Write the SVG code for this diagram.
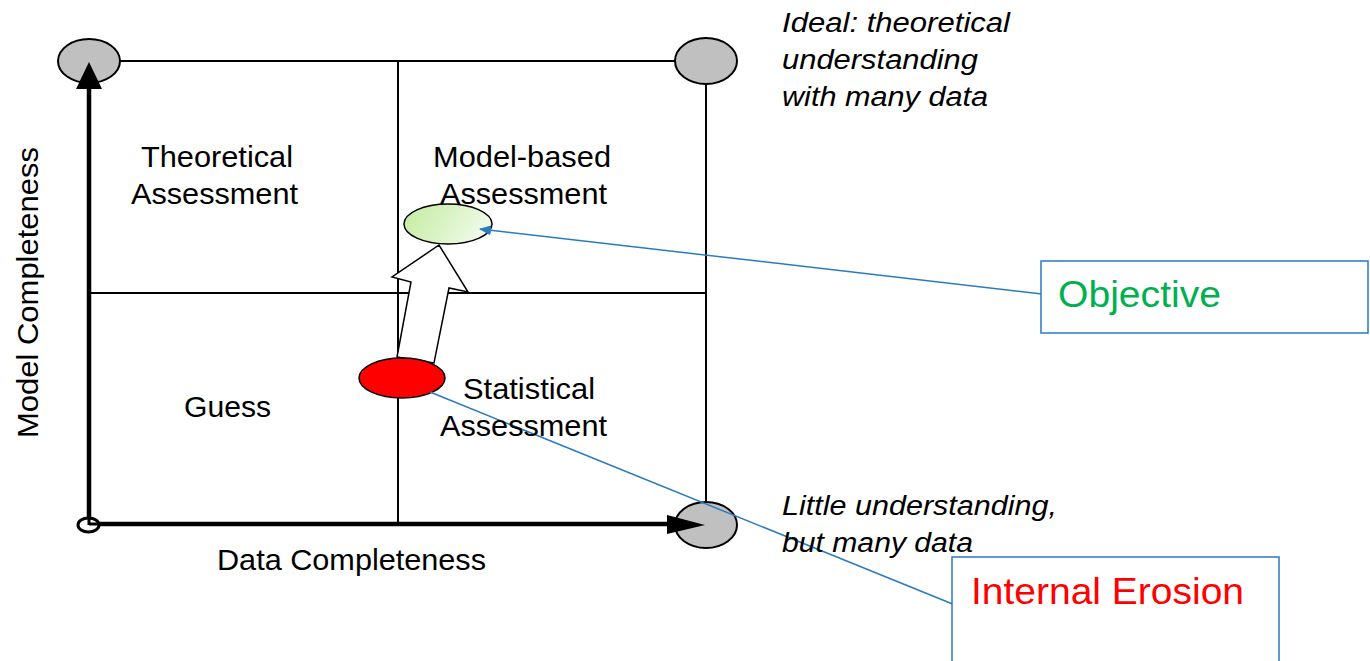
<svg xmlns="http://www.w3.org/2000/svg" width="1370" height="661" viewBox="0 0 1370 661">
<style>
.grid{stroke:#000;stroke-width:2;fill:none}
.axis{stroke:#000;stroke-width:4.5;fill:none}
.gray{fill:#c0c0c0;stroke:#000;stroke-width:2}
.lbl{font-family:"Liberation Sans",Arial,sans-serif;font-size:29px;fill:#000}
.ital{font-family:"Liberation Sans",Arial,sans-serif;font-size:27px;font-style:italic;fill:#000}
.blue{stroke:#2a7ac0;stroke-width:1.5;fill:none}
.box{fill:#fff;stroke:#2a7ac0;stroke-width:1.5}
</style>
<defs>
<linearGradient id="gg" x1="0" y1="0" x2="1" y2="0.3">
<stop offset="0" stop-color="#c2eb9e"/>
<stop offset="1" stop-color="#eefae6"/>
</linearGradient>
<marker id="bh" viewBox="0 0 12 10" refX="11" refY="5" markerWidth="12" markerHeight="10" markerUnits="userSpaceOnUse" orient="auto">
<path d="M0,0 L12,5 L0,10 Z" fill="#2a7ac0"/>
</marker>
</defs>
<g id="grid">
<line class="grid" x1="89" y1="61" x2="706" y2="61"/>
<line class="grid" x1="706" y1="61" x2="706" y2="525"/>
<line class="grid" x1="398" y1="61" x2="398" y2="524"/>
<line class="grid" x1="89" y1="293" x2="706" y2="293"/>
</g>
<g id="corner-tl"><ellipse class="gray" cx="89" cy="61" rx="31" ry="22"/></g>
<g id="corner-tr"><ellipse class="gray" cx="706" cy="61" rx="31" ry="23"/></g>
<g id="corner-br"><ellipse class="gray" cx="706" cy="525" rx="31" ry="23"/></g>
<g id="axes">
<line class="axis" x1="89" y1="524" x2="89" y2="86"/>
<path d="M76,89 L89,62 L102,89 Z" fill="#000"/>
<line class="axis" x1="89" y1="524" x2="670" y2="524"/>
<path d="M667,515 L705,525 L667,534 Z" fill="#000"/>
<ellipse cx="88.5" cy="525" rx="10.5" ry="7" fill="#fff" stroke="#000" stroke-width="3"/>
<line x1="89" y1="518" x2="89" y2="525" stroke="#000" stroke-width="3"/>
<line x1="89" y1="524" x2="99" y2="524" stroke="#000" stroke-width="3"/>
</g>
<g id="move-arrow">
<path d="M397,357 L411,282 L392,277 L439,245 L468,292 L449,288 L434,363 Z" fill="#fff" stroke="#000" stroke-width="1.5" stroke-linejoin="miter"/>
</g>
<g id="objective-ellipse"><ellipse cx="448" cy="224" rx="44" ry="20" fill="url(#gg)" stroke="#000" stroke-width="1.5"/></g>
<g id="erosion-ellipse"><ellipse cx="402" cy="378" rx="43" ry="20" fill="#ff0000" stroke="#000" stroke-width="1.5"/></g>
<g id="connectors">
<line class="blue" x1="1042" y1="294" x2="480" y2="229" marker-end="url(#bh)"/>
<line class="blue" x1="430" y1="392" x2="960" y2="607"/>
</g>
<g id="objective-box">
<rect class="box" x="1041" y="261" width="327" height="72"/>
<text x="1058" y="307" font-family="Liberation Sans,Arial,sans-serif" font-size="36" fill="#00b050" textLength="163" lengthAdjust="spacingAndGlyphs">Objective</text>
</g>
<g id="erosion-box">
<rect class="box" x="952" y="557" width="327" height="120"/>
<text x="971" y="604" font-family="Liberation Sans,Arial,sans-serif" font-size="37" fill="#ff0000" textLength="273" lengthAdjust="spacingAndGlyphs">Internal Erosion</text>
</g>
<g id="quadrant-labels">
<text class="lbl" x="141" y="167" textLength="152" lengthAdjust="spacingAndGlyphs">Theoretical</text>
<text class="lbl" x="131" y="204" textLength="167" lengthAdjust="spacingAndGlyphs">Assessment</text>
<text class="lbl" x="433" y="167" textLength="178" lengthAdjust="spacingAndGlyphs">Model-based</text>
<text class="lbl" x="440" y="204" textLength="167" lengthAdjust="spacingAndGlyphs">Assessment</text>
<text class="lbl" x="184" y="417" textLength="87" lengthAdjust="spacingAndGlyphs">Guess</text>
<text class="lbl" x="463" y="399" textLength="132" lengthAdjust="spacingAndGlyphs">Statistical</text>
<text class="lbl" x="440" y="436" textLength="167" lengthAdjust="spacingAndGlyphs">Assessment</text>
</g>
<g id="axis-labels">
<text class="lbl" x="217" y="570" textLength="269" lengthAdjust="spacingAndGlyphs">Data Completeness</text>
<text class="lbl" transform="translate(38,438) rotate(-90)" x="0" y="0" textLength="291" lengthAdjust="spacingAndGlyphs">Model Completeness</text>
</g>
<g id="notes">
<text class="ital" x="782" y="32" textLength="228" lengthAdjust="spacingAndGlyphs">Ideal: theoretical</text>
<text class="ital" x="782" y="69" textLength="196" lengthAdjust="spacingAndGlyphs">understanding</text>
<text class="ital" x="782" y="106" textLength="206" lengthAdjust="spacingAndGlyphs">with many data</text>
<text class="ital" x="782" y="515" textLength="275" lengthAdjust="spacingAndGlyphs">Little understanding,</text>
<text class="ital" x="782" y="552" textLength="191" lengthAdjust="spacingAndGlyphs">but many data</text>
</g>
</svg>
